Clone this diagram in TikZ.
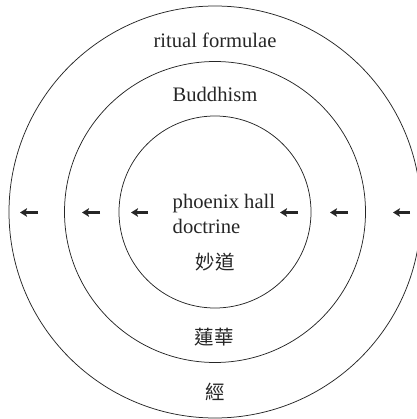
\documentclass[tikz,border=0pt]{standalone}
\usepackage{fontspec}
\setmainfont{Liberation Serif}
\newfontfamily\cjk{Noto Sans CJK TC}
\usetikzlibrary{arrows.meta}
\definecolor{ink}{gray}{0.15}
\tikzset{
  ring/.style={draw=ink, line width=0.75pt, circle, inner sep=0pt},
  lbl/.style={text=ink, font=\fontsize{20.6}{24}\selectfont, inner sep=0pt},
  cjklbl/.style={text=ink, font=\cjk\fontsize{19.5}{22}\selectfont, inner sep=0pt},
  flow/.style={draw=ink, line width=2.6pt, -{Stealth[length=7pt,width=8.5pt,inset=1.5pt]}}
}
\begin{document}
\begin{tikzpicture}[x=1pt,y=-1pt]
\useasboundingbox (0,0) rectangle (416,419);
\coordinate (c) at (215,212);
\node[ring, minimum size=412pt] (outer) at (c) {};
\node[ring, minimum size=301pt] (middle) at (c) {};
\node[ring, minimum size=192pt] (inner) at (c) {};
\node[lbl, anchor=base] (ritual) at (215,48) {ritual formulae};
\node[lbl, anchor=base] (buddhism) at (215,102) {Buddhism};
\node[lbl, anchor=base west] (phoenix) at (172.5,208) {phoenix hall};
\node[lbl, anchor=base west] (doctrine) at (172.5,233) {doctrine};
\node[cjklbl] (miaodao) at (215,262) {妙道};
\node[cjklbl] (lianhua) at (214,337) {蓮華};
\node[cjklbl] (jing) at (215,392) {經};
\foreach \s/\e [count=\i] in {38/20,100/82,148/131,298/280,348/330,410/393}{
  \coordinate (a\i s) at (\s,212.5);
  \coordinate (a\i e) at (\e,212.5);
  \draw[flow] (a\i s) -- (a\i e);
}
\end{tikzpicture}
\end{document}
